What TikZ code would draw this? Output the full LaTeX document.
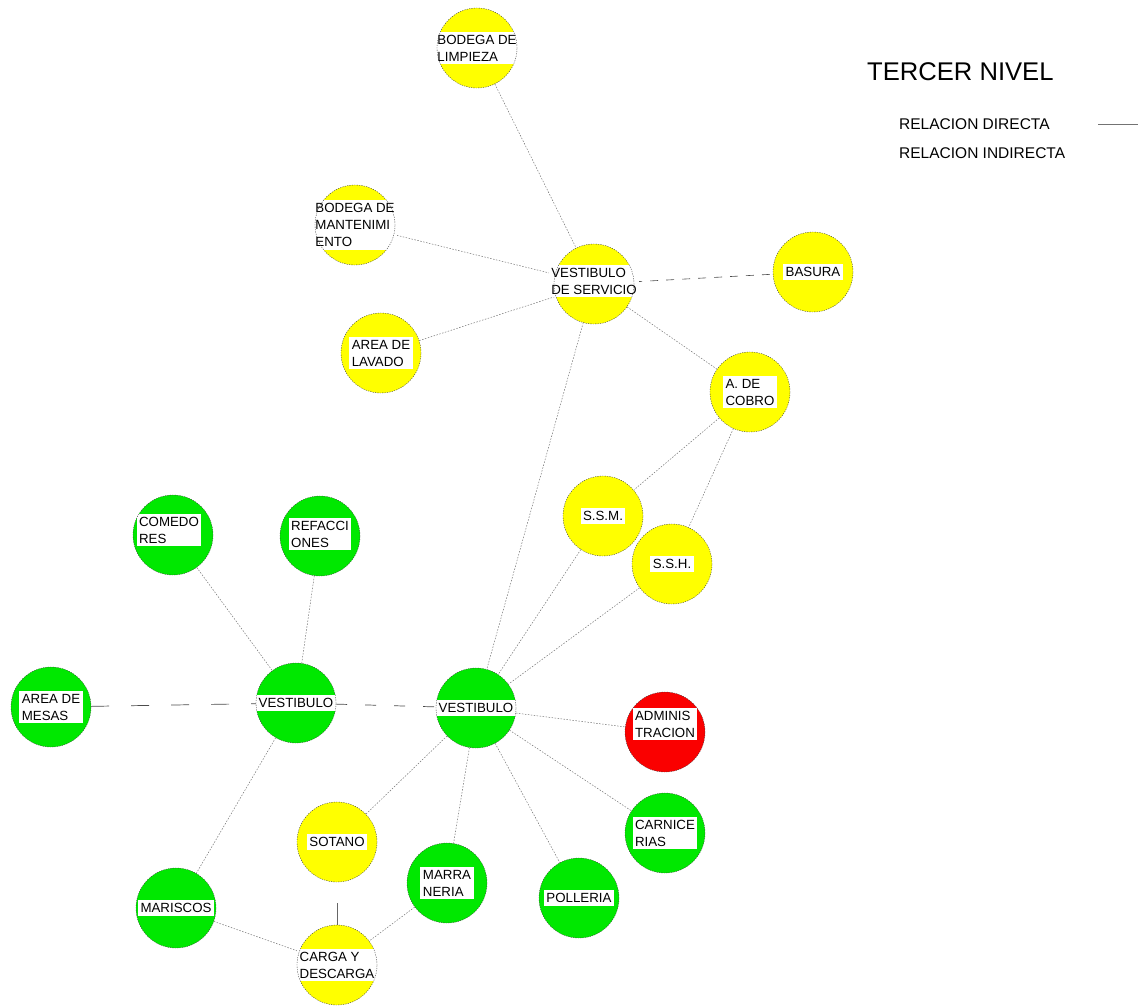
\documentclass[tikz,border=0pt]{standalone}
\usepackage{fontspec}
\setmainfont{Liberation Sans}
\definecolor{ylw}{RGB}{255,255,0}
\definecolor{grn}{RGB}{0,232,0}
\definecolor{rdc}{RGB}{250,0,0}
\begin{document}
\begin{tikzpicture}[x=1pt,y=-1pt,
  place/.style={circle, minimum size=80pt, inner sep=0pt},
  yel/.style={place, fill=ylw},
  grnp/.style={place, fill=grn},
  redp/.style={place, fill=rdc},
  outl/.style={draw=black!75, line width=0.4pt, dash pattern=on 1.2pt off 1.2pt},
  lbl/.style={fill=white, align=left, inner xsep=2.5pt, inner ysep=3pt, font=\fontsize{13.3}{17}\selectfont},
  link/.style={draw=black!55, line width=0.5pt, dash pattern=on 1.5pt off 1.5pt},
  longdash/.style={draw=black!70, line width=0.7pt, dash pattern=on 18pt off 22pt},
  meddash/.style={draw=black!70, line width=0.7pt, dash pattern=on 11pt off 18pt},
  shortdash/.style={draw=black!70, line width=0.6pt, dash pattern=on 8pt off 8pt},
  solidlink/.style={draw=black!60, line width=0.6pt}]
\useasboundingbox (0,0) rectangle (1138,1005);

% circles
\node[yel] (limp) at (477,48) {};
\node[yel] (mant) at (355,225) {};
\node[yel] (vs) at (594,284) {};
\node[yel] (bas) at (813,272) {};
\node[yel] (lav) at (381,353) {};
\node[yel] (cob) at (750,392) {};
\node[yel] (ssm) at (603,516) {};
\node[yel] (ssh) at (672,564) {};
\node[grnp] (com) at (173,535) {};
\node[grnp] (ref) at (320,536) {};
\node[grnp] (mes) at (51,707) {};
\node[grnp] (v1) at (296,703) {};
\node[grnp] (v2) at (476,708) {};
\node[redp] (adm) at (665,732) {};
\node[grnp] (carn) at (665,833) {};
\node[yel] (sot) at (337,842) {};
\node[grnp] (marr) at (447,883) {};
\node[grnp] (poll) at (579,898) {};
\node[grnp] (mar) at (176,908) {};
\node[yel] (carga) at (337,965) {};

% connectors
\draw[link] (limp) -- (vs);
\draw[link] (mant) -- (vs);
\draw[link] (lav) -- (vs);
\draw[shortdash] (vs) -- (bas);
\draw[link] (vs) -- (cob);
\draw[link] (vs) -- (v2);
\draw[link] (cob) -- (ssm);
\draw[link] (cob) -- (ssh);
\draw[link] (ssm) -- (v2);
\draw[link] (ssh) -- (v2);
\draw[link] (com) -- (v1);
\draw[link] (ref) -- (v1);
\draw[longdash] (mes) -- (v1);
\draw[meddash] (v1) -- (v2);
\draw[link] (v1) -- (mar);
\draw[link] (v2) -- (adm);
\draw[link] (v2) -- (carn);
\draw[link] (v2) -- (poll);
\draw[link] (v2) -- (marr);
\draw[link] (v2) -- (sot);
\draw[solidlink, shorten <=21pt] (sot) -- (carga);
\draw[link] (mar) -- (carga);
\draw[link] (marr) -- (carga);

% labels
\node[lbl] (limp-t) at (limp) {BODEGA DE\\LIMPIEZA};
\node[lbl] (mant-t) at (mant) {BODEGA DE\\MANTENIMI\\ENTO};
\node[lbl] (vs-t) at ([yshift=3pt]vs.center) {VESTIBULO\\DE SERVICIO};
\node[lbl] (bas-t) at (bas) {BASURA};
\node[lbl] (lav-t) at (lav) {AREA DE\\LAVADO};
\node[lbl] (cob-t) at (cob) {A. DE\\COBRO};
\node[lbl] (ssm-t) at (ssm) {S.S.M.};
\node[lbl] (ssh-t) at (ssh) {S.S.H.};
\node[lbl] (com-t) at ([xshift=-4pt,yshift=5pt]com.center) {COMEDO\\RES};
\node[lbl] (ref-t) at ([yshift=2pt]ref.center) {REFACCI\\ONES};
\node[lbl] (mes-t) at (mes) {AREA DE\\MESAS};
\node[lbl] (v1-t) at (v1) {VESTIBULO};
\node[lbl] (v2-t) at (v2) {VESTIBULO};
\node[lbl] (adm-t) at ([yshift=8pt]adm.center) {ADMINIS\\TRACION};
\node[lbl] (carn-t) at (carn) {CARNICE\\RIAS};
\node[lbl] (sot-t) at (sot) {SOTANO};
\node[lbl] (marr-t) at (marr) {MARRA\\NERIA};
\node[lbl] (poll-t) at (poll) {POLLERIA};
\node[lbl] (mar-t) at (mar) {MARISCOS};
\node[lbl] (carga-t) at (carga) {CARGA Y\\DESCARGA};

% outlines on top
\foreach \n in {limp,mant,vs,bas,lav,cob,ssm,ssh,com,ref,mes,v1,v2,adm,carn,sot,marr,poll,mar,carga}
  \draw[outl] (\n.center) circle (40pt);

% legend
\node[anchor=base west, inner sep=0pt, font=\fontsize{25.6}{30}\selectfont] (title) at (867,80) {TERCER NIVEL};
\node[anchor=base west, inner sep=0pt, font=\fontsize{15.5}{18}\selectfont] (leg1) at (899,129) {RELACION DIRECTA};
\node[anchor=base west, inner sep=0pt, font=\fontsize{15.5}{18}\selectfont] (leg2) at (899,158) {RELACION INDIRECTA};
\coordinate (l1a) at (1098,124);
\coordinate (l1b) at (1138,124);
\draw[draw=black!55, line width=0.5pt] (l1a) -- (l1b);
\end{tikzpicture}
\end{document}
